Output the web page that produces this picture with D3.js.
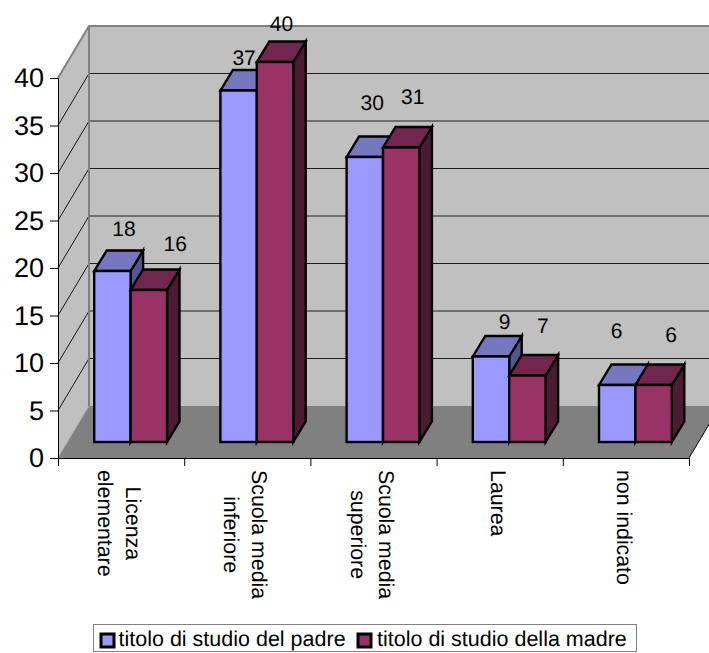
<!DOCTYPE html>
<html>
<head>
<meta charset="utf-8">
<script src="https://cdn.jsdelivr.net/npm/d3@7"></script>
<style>
  html, body { margin: 0; padding: 0; background: #fff; }
  svg { display: block; }
  text { font-family: "Liberation Sans", Arial, sans-serif; fill: #000; text-rendering: geometricPrecision; }
</style>
</head>
<body>
<svg id="chart" width="709" height="653"></svg>
<script>
// Chart data
const categories = [
  ["Licenza", "elementare"],
  ["Scuola media", "inferiore"],
  ["Scuola media", "superiore"],
  ["Laurea"],
  ["non indicato"]
];
const seriesNames = ["titolo di studio del padre", "titolo di studio della madre"];
const fatherValues = [18, 37, 30, 9, 6];
const motherValues = [16, 40, 31, 7, 6];
const yTicks = [0, 5, 10, 15, 20, 25, 30, 35, 40];

// Label offsets from the top-back edge of each bar: [dx, dy]
const fatherLabelShift = [[-1, -22], [-7, -13], [-5, -34], [1, -15], [-13, -34]];
const motherLabelShift = [[14, -26], [-6, -18], [-1, -31], [3, -30], [5, -30]];

const svg = d3.select("#chart");

// Oblique projection of the box: the back wall sits up and to the right of the front plane
const wallDx = 31, wallDy = -52;
const plotLeft = 58, plotRight = 689, plotBottom = 458, plotTop = 78;

const y = d3.scaleLinear().domain([0, 40]).range([plotBottom, plotTop]);
const x = d3.scaleBand().domain(d3.range(categories.length)).range([plotLeft, plotRight]);
const barWidth = 36.4;
const barLift = 16, barShift = 9.5;   // bars stand part-way into the floor
const barDx = 12.5, barDy = -20.5;    // depth of each bar

const series = [
  { values: fatherValues, shift: fatherLabelShift, front: "#9999FF", top: "#7777BF", side: "#55558F" },
  { values: motherValues, shift: motherLabelShift, front: "#993366", top: "#73264D", side: "#4D1A33" }
];

const poly = pts => pts.map(p => p.join(",")).join(" ");

// Back wall and side wall
const walls = svg.append("g");
walls.append("polygon")
  .attr("points", poly([[plotLeft + wallDx, plotTop + wallDy], [plotRight + wallDx, plotTop + wallDy],
                        [plotRight + wallDx, plotBottom + wallDy], [plotLeft + wallDx, plotBottom + wallDy]]))
  .attr("fill", "#C0C0C0");
walls.append("polygon")
  .attr("points", poly([[plotLeft, plotTop], [plotLeft + wallDx, plotTop + wallDy],
                        [plotLeft + wallDx, plotBottom + wallDy], [plotLeft, plotBottom]]))
  .attr("fill", "#C0C0C0");

// Gridlines running along the side wall and across the back wall
const grid = svg.append("g").attr("stroke", "#000").attr("stroke-width", 1).attr("fill", "none");
yTicks.filter(t => t > 0 && t < 40).forEach(t => {
  grid.append("line")
    .attr("x1", plotLeft + wallDx).attr("x2", plotRight + wallDx)
    .attr("y1", y(t) + wallDy).attr("y2", y(t) + wallDy)
    .attr("stroke-opacity", 0.85);
  grid.append("line")
    .attr("x1", plotLeft).attr("x2", plotLeft + wallDx)
    .attr("y1", y(t)).attr("y2", y(t) + wallDy)
    .attr("stroke-width", 0.9);
});

// Floor
walls.append("polygon")
  .attr("points", poly([[plotLeft, plotBottom], [plotRight, plotBottom],
                        [plotRight + wallDx, plotBottom + wallDy], [plotLeft + wallDx, plotBottom + wallDy]]))
  .attr("fill", "#808080");

// Wall edges
const edges = svg.append("g").attr("stroke", "#808080").attr("stroke-width", 2).attr("fill", "none");
edges.append("polyline")
  .attr("points", poly([[plotLeft, plotTop], [plotLeft + wallDx, plotTop + wallDy], [plotRight + wallDx, plotTop + wallDy]]));
edges.append("line")
  .attr("x1", plotLeft + wallDx).attr("x2", plotLeft + wallDx)
  .attr("y1", plotTop + wallDy).attr("y2", plotBottom + wallDy);
edges.append("line")
  .attr("x1", plotLeft).attr("x2", plotLeft + wallDx)
  .attr("y1", plotBottom).attr("y2", plotBottom + wallDy)
  .attr("stroke-width", 1).attr("stroke", "#A0A0A0");
svg.append("line")
  .attr("x1", plotRight).attr("x2", plotRight + wallDx)
  .attr("y1", plotBottom).attr("y2", plotBottom + wallDy)
  .attr("stroke", "#000").attr("stroke-width", 1);

// Three-faced bars
const barLayer = svg.append("g").attr("stroke", "#000").attr("stroke-width", 2.4);
const barLeft = (i, s) => x(i) + barShift + (x.step() - 2 * barWidth) / 2 + s * barWidth;
const baseY = plotBottom - barLift;
const valueY = v => y(v) - barLift;

categories.forEach((_, i) => {
  series.forEach((ser, s) => {
    const v = ser.values[i];
    const l = barLeft(i, s), r = l + barWidth, t = valueY(v), b = baseY;
    const g = barLayer.append("g");
    g.append("polygon").attr("fill", ser.side)
      .attr("points", poly([[r, t], [r + barDx, t + barDy], [r + barDx, b + barDy], [r, b]]));
    g.append("polygon").attr("fill", ser.top)
      .attr("points", poly([[l, t], [l + barDx, t + barDy], [r + barDx, t + barDy], [r, t]]));
    g.append("rect").attr("fill", ser.front)
      .attr("x", l).attr("y", t).attr("width", barWidth).attr("height", b - t);
  });
});

// Value labels
const labels = svg.append("g").attr("font-size", 21).attr("text-anchor", "middle");
categories.forEach((_, i) => {
  series.forEach((ser, s) => {
    const v = ser.values[i];
    const [dx, dy] = ser.shift[i];
    labels.append("text")
      .attr("x", barLeft(i, s) + barWidth / 2 + barDx + dx)
      .attr("y", valueY(v) + barDy + dy + 7.5)
      .text(v);
  });
});

// Value axis
const yAxis = svg.append("g")
  .attr("transform", `translate(${plotLeft},0)`)
  .call(d3.axisLeft(y).tickValues(yTicks).tickSize(8).tickPadding(6));
yAxis.select(".domain").attr("stroke", "#000").attr("stroke-width", 1);
yAxis.selectAll("text").attr("font-size", 27).attr("font-family", '"Liberation Sans", Arial, sans-serif');

// Category axis: ticks mark the band boundaries
const boundary = d3.scaleLinear().domain([0, categories.length]).range([plotLeft, plotRight]);
const xAxis = svg.append("g")
  .attr("transform", `translate(0,${plotBottom})`)
  .call(d3.axisBottom(boundary).tickValues(d3.range(categories.length + 1)).tickSize(8).tickFormat(""));
xAxis.select(".domain").attr("stroke", "#000").attr("stroke-width", 1);

// Category labels, rotated to read downwards
const lineGap = 28, catFont = 21.3;
categories.forEach((lines, i) => {
  const cx = x(i) + x.bandwidth() / 2 - 2;
  const g = svg.append("g").attr("transform", `translate(${cx},470) rotate(90)`);
  const t = g.append("text").attr("font-size", catFont).attr("text-anchor", "middle");
  lines.forEach((line, k) => {
    t.append("tspan").attr("x", 0).attr("y", 7 + (k - (lines.length - 1) / 2) * lineGap).text(line);
  });
  t.attr("transform", `translate(${t.node().getBBox().width / 2},0)`);
});

// Legend
const legend = svg.append("g");
legend.append("rect").attr("x", 93.5).attr("y", 624.5).attr("width", 543).attr("height", 27)
  .attr("fill", "#fff").attr("stroke", "#808080").attr("stroke-width", 1);
const legendX = [101, 358];
seriesNames.forEach((name, k) => {
  legend.append("rect").attr("x", legendX[k]).attr("y", 634).attr("width", 13).attr("height", 13)
    .attr("fill", series[k].front).attr("stroke", "#000").attr("stroke-width", 3);
  legend.append("text").attr("x", legendX[k] + 17.5 + k * 1.5).attr("y", 646).attr("font-size", 21.5).text(name);
});
</script>
</body>
</html>
